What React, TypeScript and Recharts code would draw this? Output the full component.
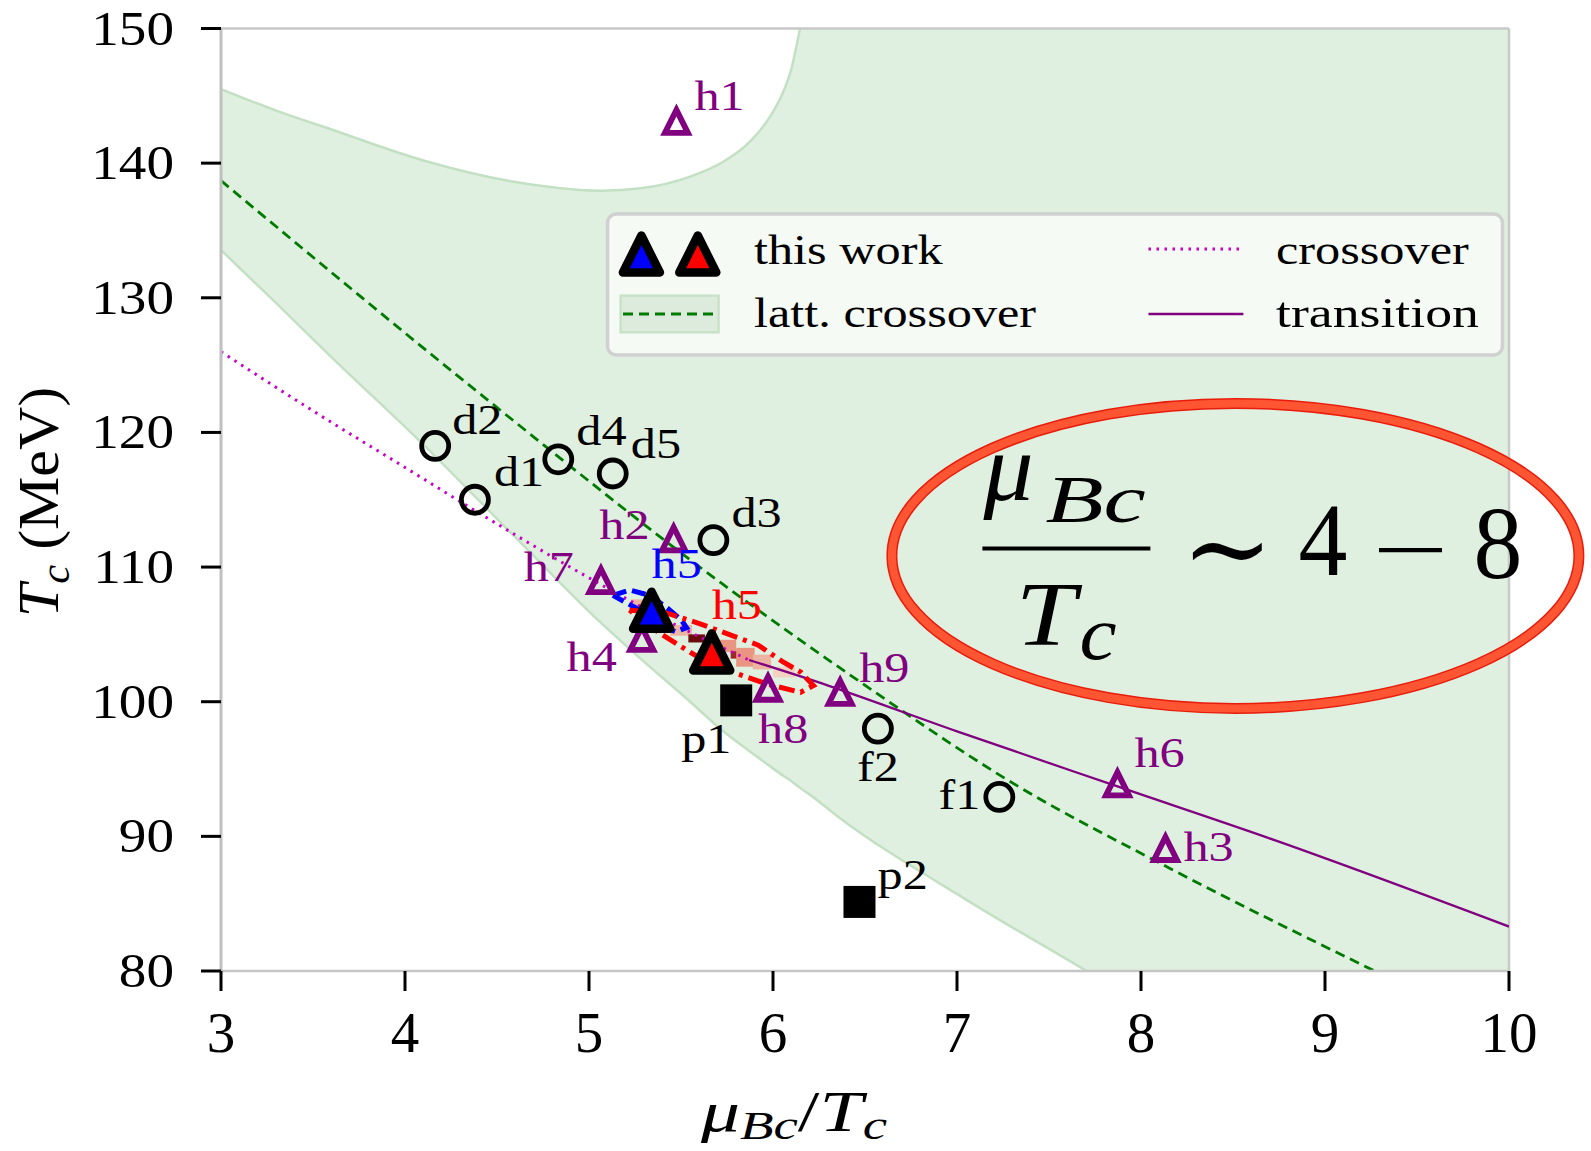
import React from "react";
import {
  Area,
  ComposedChart,
  Legend,
  Line,
  ReferenceArea,
  ReferenceDot,
  ReferenceLine,
  Scatter,
  XAxis,
  YAxis,
} from "recharts";

const SERIF = "Liberation Serif";

const X_TICKS = [3, 4, 5, 6, 7, 8, 9, 10];
const Y_TICKS = [80, 90, 100, 110, 120, 130, 140, 150];

// lattice crossover band (lower / upper edge)
const BAND_X = [3, 3.3, 3.6, 4.1, 4.6, 5.07, 5.28, 5.55, 5.73, 5.875, 5.984, 6.056, 6.1, 6.129, 6.147, 6.2, 6.35, 7.056, 7.68, 8.5, 10];
const BAND_LO = [133.55, 129.6, 125.6, 119.1, 112.2, 105.8, 103.2, 100.0, 97.8, 96.3, 95.2, 94.5, 94.1, 93.8, 93.6, 93.1, 91.5, 85.25, 80.2, 73.5, 61];
const BAND_HI = [145.5, 143.9, 142.5, 140.2, 138.6, 137.95, 138.13, 139.0, 140.1, 141.6, 143.45, 145.3, 147.0, 148.8, 150, 154.5, 170, 280, 380, 500, 700];

const LATT_X = [3, 4.45, 5.72, 6.46, 7.31, 8.16, 9.27, 9.6];
const LATT_Y = [138.7, 122.4, 108.8, 101.6, 93.9, 87.6, 80.0, 77.8];

const CROSS_X = [3, 3.5, 4, 4.38, 5.0, 5.5, 5.87];
const CROSS_Y = [126, 121.6, 117.4, 114.2, 109.2, 105.5, 103.1];

const TRANS_X = [5.87, 6.3, 7.0, 7.88, 8.73, 10];
const TRANS_Y = [103.1, 101.2, 97.8, 93.67, 89.7, 83.3];

const CIRCLE_NAMES = ["d1", "d2", "d3", "d4", "d5", "f1", "f2"];
const CIRCLE_X = [4.38, 4.164, 5.676, 4.833, 5.129, 7.23, 6.57];
const CIRCLE_Y = [115.0, 119.0, 112.0, 118.0, 116.95, 92.93, 98.0];

const OPEN_TRI_NAMES = ["h1", "h2", "h3", "h4", "h6", "h7", "h8", "h9"];
const OPEN_TRI_X = [5.475, 5.46, 8.133, 5.287, 7.872, 5.065, 5.973, 6.365];
const OPEN_TRI_Y = [143.1, 112.1, 89.1, 104.7, 93.9, 109.0, 101.0, 100.7];

const SQUARE_NAMES = ["p1", "p2"];
const SQUARE_X = [5.8, 6.47];
const SQUARE_Y = [100.1, 85.13];

const WORK_NAMES = ["h5", "h5"];
const WORK_X = [5.34, 5.667];
const WORK_Y = [106.8, 103.7];
const WORK_COLORS = ["#0000ff", "#ff0000"];

const BLUE_CONTOUR_X = [5.13, 5.22, 5.33, 5.43, 5.5, 5.53, 5.47, 5.38, 5.25, 5.13];
const BLUE_CONTOUR_Y = [107.9, 108.3, 107.9, 106.9, 106.1, 105.5, 105.2, 105.7, 107.0, 107.9];

const RED_CONTOUR_X = [5.22, 5.42, 5.6, 5.8, 5.92, 6.05, 6.15, 6.22, 6.15, 5.97, 5.8, 5.62, 5.5, 5.35, 5.22];
const RED_CONTOUR_Y = [106.8, 106.6, 105.8, 104.8, 104.2, 103.0, 102.2, 101.2, 100.7, 101.3, 102.1, 103.1, 104.1, 105.4, 106.8];

// likelihood cells near the red point
const CELL_X1 = [5.23, 5.44, 5.54, 5.7, 5.77, 5.8, 5.89, 6.0];
const CELL_X2 = [5.3, 5.56, 5.63, 5.8, 5.82, 5.9, 5.99, 6.12];
const CELL_Y1 = [107.1, 104.9, 104.4, 103.7, 103.2, 102.6, 102.4, 101.8];
const CELL_Y2 = [107.6, 105.7, 105.0, 104.6, 103.75, 104.0, 103.5, 102.6];
const CELL_SHADE = [0.3, 0.3, 1.0, 0.45, 0.85, 0.4, 0.2, 0.1];

const NOTE_X = 8.513;
const NOTE_Y = 110.83;

const LABEL_POS: Record<string, [number, number, "start" | "end"]> = {
  d1: [19, -14, "start"],
  d2: [17, -12, "start"],
  d3: [18, -13, "start"],
  d4: [18, -14, "start"],
  d5: [18, -15, "start"],
  f1: [-19, 12, "end"],
  f2: [-21, 52, "start"],
  h1: [18, -11, "start"],
  h2: [-24, 0, "end"],
  h3: [18, 13, "start"],
  h4: [-25, 33, "end"],
  h6: [17, -17, "start"],
  h7: [-27, 0, "end"],
  h8: [-10, 55, "start"],
  h9: [19, -10, "start"],
  p1: [-55, 53, "start"],
  p2: [18, -13, "start"],
};
const WORK_LABEL_POS: [number, number][] = [
  [0, -32],
  [0, -33],
];

const bandData = BAND_X.map((x, i) => ({ x, band: [BAND_LO[i], BAND_HI[i]] }));
const toPoints = (xs: number[], ys: number[], names?: string[]) =>
  xs.map((x, i) => ({ x, y: ys[i], name: names ? names[i] : "", idx: i }));

function cellColor(s: number) {
  if (s > 0.9) return "#6a0c0c";
  if (s > 0.7) return "#9a2a22";
  if (s > 0.35) return "#e99581";
  if (s > 0.15) return "#eeb4a2";
  return "#f3d2c2";
}

function SText({ x, y, size, sx = 1.17, anchor = "start", color = "#000", italic = false, spacing = 0, children }: any) {
  return (
    <text
      transform={`translate(${x},${y}) scale(${sx},1)`}
      fontFamily={SERIF}
      fontSize={size}
      fill={color}
      textAnchor={anchor}
      letterSpacing={spacing}
      fontStyle={italic ? "italic" : "normal"}
    >
      {children}
    </text>
  );
}

function triPath(cx: number, cy: number, s: number) {
  return `M${cx},${cy - s}L${cx + s},${cy + s}L${cx - s},${cy + s}Z`;
}

function PointLabel({ cx, cy, name, color, pos }: any) {
  const [dx, dy, anchor] = pos || LABEL_POS[name] || [18, -12, "start"];
  return (
    <SText x={cx + dx} y={cy + dy} size={43} anchor={anchor} color={color}>
      {name}
    </SText>
  );
}

const circleShape = (p: any) => (
  <g>
    <circle cx={p.cx} cy={p.cy} r={13.5} fill="none" stroke="#000" strokeWidth={4.8} />
    <PointLabel cx={p.cx} cy={p.cy} name={p.payload.name} color="#000" />
  </g>
);

const openTriShape = (p: any) => (
  <g>
    <path d={triPath(p.cx, p.cy, 11.5)} fill="none" stroke="#800080" strokeWidth={5.8} strokeLinejoin="miter" />
    <PointLabel cx={p.cx} cy={p.cy} name={p.payload.name} color="#800080" />
  </g>
);

const squareShape = (p: any) => (
  <g>
    <rect x={p.cx - 16} y={p.cy - 16} width={32} height={32} fill="#000" />
    <PointLabel cx={p.cx} cy={p.cy} name={p.payload.name} color="#000" />
  </g>
);

const workShape = (p: any) => {
  const i = p.payload.idx;
  return (
    <g>
      <path
        d={triPath(p.cx, p.cy, 18.5)}
        fill={WORK_COLORS[i]}
        stroke="#000"
        strokeWidth={8.5}
        strokeLinejoin="round"
      />
      <PointLabel cx={p.cx} cy={p.cy} name={p.payload.name} color={WORK_COLORS[i]} pos={[...WORK_LABEL_POS[i], "start"]} />
    </g>
  );
};

function XTick(props: any) {
  return (
    <SText x={props.x} y={1052} size={57} sx={1} anchor="middle">
      {props.payload.value}
    </SText>
  );
}

function YTick(props: any) {
  return (
    <SText x={174} y={props.y + 16} size={48} sx={1.15} anchor="end">
      {props.payload.value}
    </SText>
  );
}

function XLabel() {
  return (
    <text transform="translate(794,1131) scale(1.34,1)" textAnchor="middle" fontFamily={SERIF} fontSize={58}>
      <tspan fontStyle="italic">μ</tspan>
      <tspan fontStyle="italic" fontSize={41} dy={8}>
        Bc
      </tspan>
      <tspan dy={-8}>/</tspan>
      <tspan fontStyle="italic">T</tspan>
      <tspan fontStyle="italic" fontSize={41} dy={8}>
        c
      </tspan>
    </text>
  );
}

function YLabel() {
  return (
    <text transform="translate(58,502) rotate(-90) scale(1.07,1)" textAnchor="middle" fontFamily={SERIF} fontSize={56}>
      <tspan fontStyle="italic">T</tspan>
      <tspan fontStyle="italic" fontSize={40} dy={11}>
        c
      </tspan>
      <tspan dy={-11}> (MeV)</tspan>
    </text>
  );
}

const noteShape = (p: any) => {
  const { cx, cy } = p;
  return (
    <g>
      <ellipse cx={cx} cy={cy} rx={343.5} ry={152.5} fill="none" stroke="#e81c0c" strokeWidth={11} />
      <ellipse cx={cx} cy={cy} rx={343.5} ry={152.5} fill="none" stroke="#ff5533" strokeWidth={8} />
      <SText x={cx - 252} y={cy - 56} size={95} sx={1.05} italic>
        μ
      </SText>
      <SText x={cx - 190} y={cy - 34} size={68} sx={1.4} italic>
        Bc
      </SText>
      <line x1={cx - 253} x2={cx - 85} y1={cy - 7.5} y2={cy - 7.5} stroke="#000" strokeWidth={4} />
      <SText x={cx - 220} y={cy + 89} size={92} sx={1.18} italic>
        T
      </SText>
      <SText x={cx - 156} y={cy + 103} size={76} sx={1.1} italic>
        c
      </SText>
      <text x={cx - 8} y={cy + 30} fontFamily="DejaVu Serif" fontSize={110} textAnchor="middle">
        ∼
      </text>
      <SText x={cx + 87.6} y={cy + 19} size={103} sx={0.95} anchor="middle">
        4
      </SText>
      <line x1={cx + 143.6} x2={cx + 206.6} y1={cy - 5.8} y2={cy - 5.8} stroke="#000" strokeWidth={4.2} />
      <SText x={cx + 262.6} y={cy + 22} size={103} sx={0.95} anchor="middle">
        8
      </SText>
    </g>
  );
};

function LegendBox() {
  return (
    <svg width={904} height={150} style={{ display: "block" }}>
      <rect x={3.5} y={3} width={895} height={141} rx={9} fill="#f6faf5" stroke="#d0d0d0" strokeWidth={3.5} />
      <path d={triPath(37.4, 43, 18.5)} fill="#0000ff" stroke="#000" strokeWidth={8.5} strokeLinejoin="round" />
      <path d={triPath(93.8, 43, 18.5)} fill="#ff0000" stroke="#000" strokeWidth={8.5} strokeLinejoin="round" />
      <SText x={150} y={53} size={43}>
        this work
      </SText>
      <rect x={16.6} y={84.7} width={98} height={36.6} fill="#dcebdc" stroke="#c8e2c8" strokeWidth={2.5} />
      <line x1={19} x2={112} y1={103} y2={103} stroke="#007a00" strokeWidth={2.8} strokeDasharray="10 6" />
      <SText x={150} y={116.3} size={43}>
        latt. crossover
      </SText>
      <line x1={544.5} x2={636.4} y1={38} y2={38} stroke="#c800c8" strokeWidth={3} strokeDasharray="2.5 5.5" />
      <SText x={672} y={53} size={43}>
        crossover
      </SText>
      <line x1={544.5} x2={639.4} y1={103} y2={103} stroke="#800080" strokeWidth={2.5} />
      <SText x={672} y={116.3} size={43} sx={1.25}>
        transition
      </SText>
    </svg>
  );
}

export default function App() {
  return (
    <div style={{ position: "absolute", left: 0, top: 0, background: "#fff" }}>
      <ComposedChart
        width={1591}
        height={1151}
        data={bandData}
        margin={{ top: 28.5, right: 82, bottom: 0, left: 0 }}
      >
        <XAxis
          type="number"
          dataKey="x"
          domain={[3, 10]}
          ticks={X_TICKS}
          interval={0}
          allowDataOverflow
          height={180}
          tickSize={20}
          tickLine={{ stroke: "#000", strokeWidth: 3 }}
          axisLine={{ stroke: "#c6c6c6", strokeWidth: 2.5 }}
          tick={<XTick />}
          label={<XLabel />}
        />
        <YAxis
          type="number"
          domain={[80, 150]}
          ticks={Y_TICKS}
          interval={0}
          allowDataOverflow
          width={221}
          tickSize={20}
          tickLine={{ stroke: "#000", strokeWidth: 3 }}
          axisLine={{ stroke: "#c0c0c0", strokeWidth: 3 }}
          tick={<YTick />}
          label={<YLabel />}
        />
        <Area
          dataKey="band"
          type="monotone"
          fill="#008000"
          fillOpacity={0.12}
          stroke="#c4e0c4"
          strokeWidth={2.5}
          isAnimationActive={false}
          activeDot={false}
          dot={false}
        />
        <ReferenceLine y={150} stroke="#c8c8c8" strokeWidth={2.5} ifOverflow="visible" />
        <ReferenceLine x={10} stroke="#c8c8c8" strokeWidth={2.5} ifOverflow="visible" />
        <Line
          data={toPoints(LATT_X, LATT_Y)}
          dataKey="y"
          type="monotone"
          stroke="#007a00"
          strokeWidth={2.8}
          strokeDasharray="10 6"
          dot={false}
          activeDot={false}
          isAnimationActive={false}
        />
        <Line
          data={toPoints(CROSS_X, CROSS_Y)}
          dataKey="y"
          type="monotone"
          stroke="#c800c8"
          strokeWidth={3}
          strokeDasharray="2.5 5.5"
          dot={false}
          activeDot={false}
          isAnimationActive={false}
        />
        <Line
          data={toPoints(TRANS_X, TRANS_Y)}
          dataKey="y"
          type="monotone"
          stroke="#800080"
          strokeWidth={2.3}
          dot={false}
          activeDot={false}
          isAnimationActive={false}
        />
        {CELL_X1.map((x1, i) => (
          <ReferenceArea
            key={`cell-${i}`}
            x1={x1}
            x2={CELL_X2[i]}
            y1={CELL_Y1[i]}
            y2={CELL_Y2[i]}
            fill={cellColor(CELL_SHADE[i])}
            fillOpacity={1}
            stroke="none"
          />
        ))}
        <Line
          data={toPoints(BLUE_CONTOUR_X, BLUE_CONTOUR_Y)}
          dataKey="y"
          type="linear"
          stroke="#0000ff"
          strokeWidth={5}
          strokeDasharray="14 6"
          dot={false}
          activeDot={false}
          isAnimationActive={false}
        />
        <Line
          data={toPoints(RED_CONTOUR_X, RED_CONTOUR_Y)}
          dataKey="y"
          type="linear"
          stroke="#ff0000"
          strokeWidth={5}
          strokeDasharray="16 6 4 6"
          dot={false}
          activeDot={false}
          isAnimationActive={false}
        />
        <Scatter data={toPoints(CIRCLE_X, CIRCLE_Y, CIRCLE_NAMES)} dataKey="y" shape={circleShape} isAnimationActive={false} />
        <Scatter data={toPoints(OPEN_TRI_X, OPEN_TRI_Y, OPEN_TRI_NAMES)} dataKey="y" shape={openTriShape} isAnimationActive={false} />
        <Scatter data={toPoints(SQUARE_X, SQUARE_Y, SQUARE_NAMES)} dataKey="y" shape={squareShape} isAnimationActive={false} />
        <Scatter data={toPoints(WORK_X, WORK_Y, WORK_NAMES)} dataKey="y" shape={workShape} isAnimationActive={false} />
        <ReferenceDot x={NOTE_X} y={NOTE_Y} r={1} ifOverflow="visible" shape={noteShape} />
        <Legend
          layout="horizontal"
          verticalAlign="middle"
          align="center"
          content={() => <LegendBox />}
          wrapperStyle={{ position: "absolute", left: 604, top: 211, width: 904, height: 150, margin: 0 }}
        />
      </ComposedChart>
    </div>
  );
}
